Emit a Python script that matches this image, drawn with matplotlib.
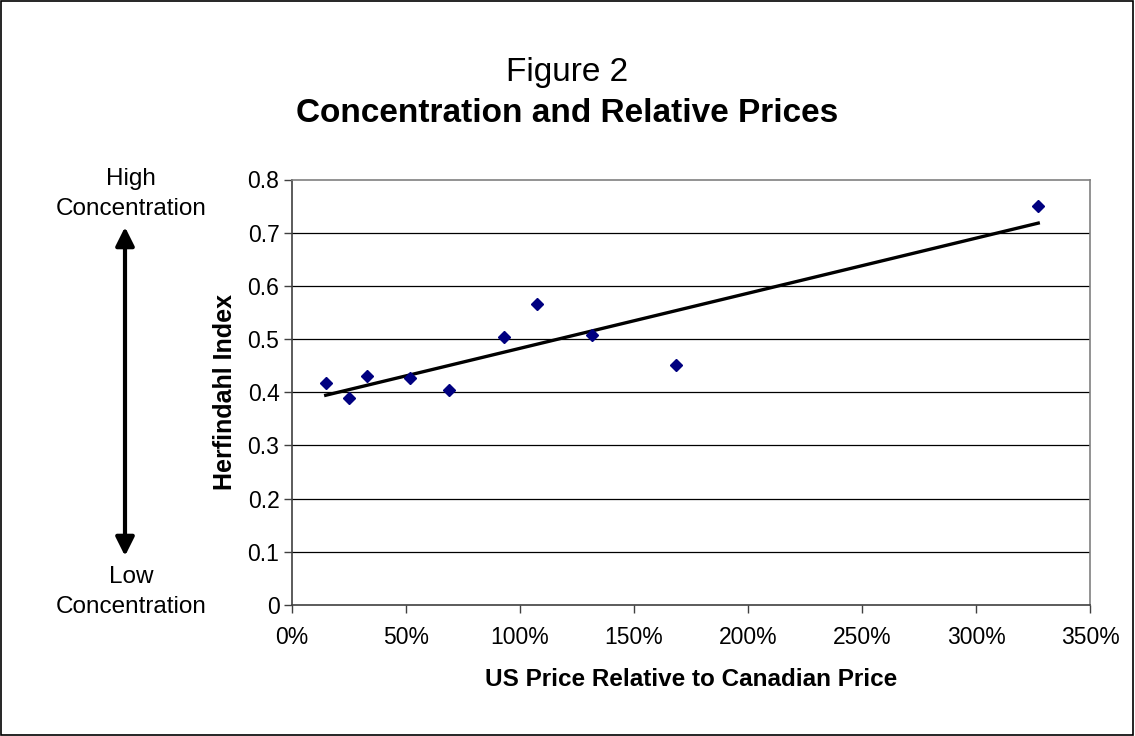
import matplotlib
matplotlib.use("Agg")
import matplotlib.pyplot as plt
import numpy as np
from matplotlib.patches import Rectangle, FancyArrowPatch

plt.rcParams['font.family'] = ['Liberation Sans', 'DejaVu Sans']

# Data (US price relative to Canadian price, Herfindahl index)
price_rel = [0.148, 0.25, 0.329, 0.518, 0.690, 0.931, 1.073, 1.317, 1.684, 3.273]
herfindahl = [0.418, 0.390, 0.431, 0.427, 0.404, 0.504, 0.565, 0.508, 0.451, 0.750]
x_ticks = [0, 0.5, 1.0, 1.5, 2.0, 2.5, 3.0, 3.5]
x_ticklabels = ["0%", "50%", "100%", "150%", "200%", "250%", "300%", "350%"]
y_ticks = [0, 0.1, 0.2, 0.3, 0.4, 0.5, 0.6, 0.7, 0.8]
y_ticklabels = ["0", "0.1", "0.2", "0.3", "0.4", "0.5", "0.6", "0.7", "0.8"]

W, H = 1135, 736
fx = lambda x: x / W
fy = lambda y: 1 - y / H

fig = plt.figure(figsize=(W / 100, H / 100), dpi=100)
ax = fig.add_axes([fx(292), fy(605), fx(1090) - fx(292), fy(179.5) - fy(605)])

# gridlines
for yv in y_ticks[1:-1]:
    ax.axhline(yv, color='black', lw=0.9, zorder=1)

ax.plot(price_rel, herfindahl, linestyle='none', marker='D', markersize=6.5,
        color='#000080', zorder=3)

coef = np.polyfit(price_rel, herfindahl, 1)
xs = np.array([min(price_rel), max(price_rel)])
ax.plot(xs, np.polyval(coef, xs), color='black', lw=2.4, zorder=2)

ax.set_xlim(0, 3.5)
ax.set_ylim(0, 0.8)
ax.set_xticks(x_ticks)
ax.set_xticklabels(x_ticklabels)
ax.set_yticks(y_ticks)
ax.set_yticklabels(y_ticklabels)
ax.tick_params(axis='both', labelsize=16.5, direction='out', length=6,
               width=1, color='#404040')
ax.tick_params(axis='y', pad=3)
ax.tick_params(axis='x', pad=9)

for s in ['top', 'right']:
    ax.spines[s].set_color('#808080')
    ax.spines[s].set_linewidth(1.2)
for s in ['left', 'bottom']:
    ax.spines[s].set_color('#404040')
    ax.spines[s].set_linewidth(1.2)

ax.set_ylabel("Herfindahl Index", fontsize=18, fontweight='bold', labelpad=8)
ax.set_xlabel("US Price Relative to Canadian Price", fontsize=17.5,
              fontweight='bold', labelpad=14)

fig.text(0.5, fy(72), "Figure 2", ha='center', va='center', fontsize=24)
fig.text(0.5, fy(114), "Concentration and Relative Prices", ha='center',
         va='center', fontsize=24, fontweight='bold')

cx = fx(131)
fig.text(cx, fy(185), "High", ha='center', va='baseline', fontsize=17.5)
fig.text(cx, fy(215), "Concentration", ha='center', va='baseline', fontsize=17.5)
fig.text(cx, fy(583), "Low", ha='center', va='baseline', fontsize=17.5)
fig.text(cx, fy(613), "Concentration", ha='center', va='baseline', fontsize=17.5)

fig.add_artist(FancyArrowPatch(
    (fx(125), fy(556)), (fx(125), fy(227)),
    transform=fig.transFigure, arrowstyle='<|-|>,head_length=0.8,head_width=0.4',
    color='black', lw=3, mutation_scale=14, shrinkA=0, shrinkB=0))

fig.add_artist(Rectangle((0.001, 0.001), 0.997, 0.997, transform=fig.transFigure,
                         fill=False, edgecolor='black', lw=1.2))

fig.savefig("out.png", dpi=100, facecolor='white')
